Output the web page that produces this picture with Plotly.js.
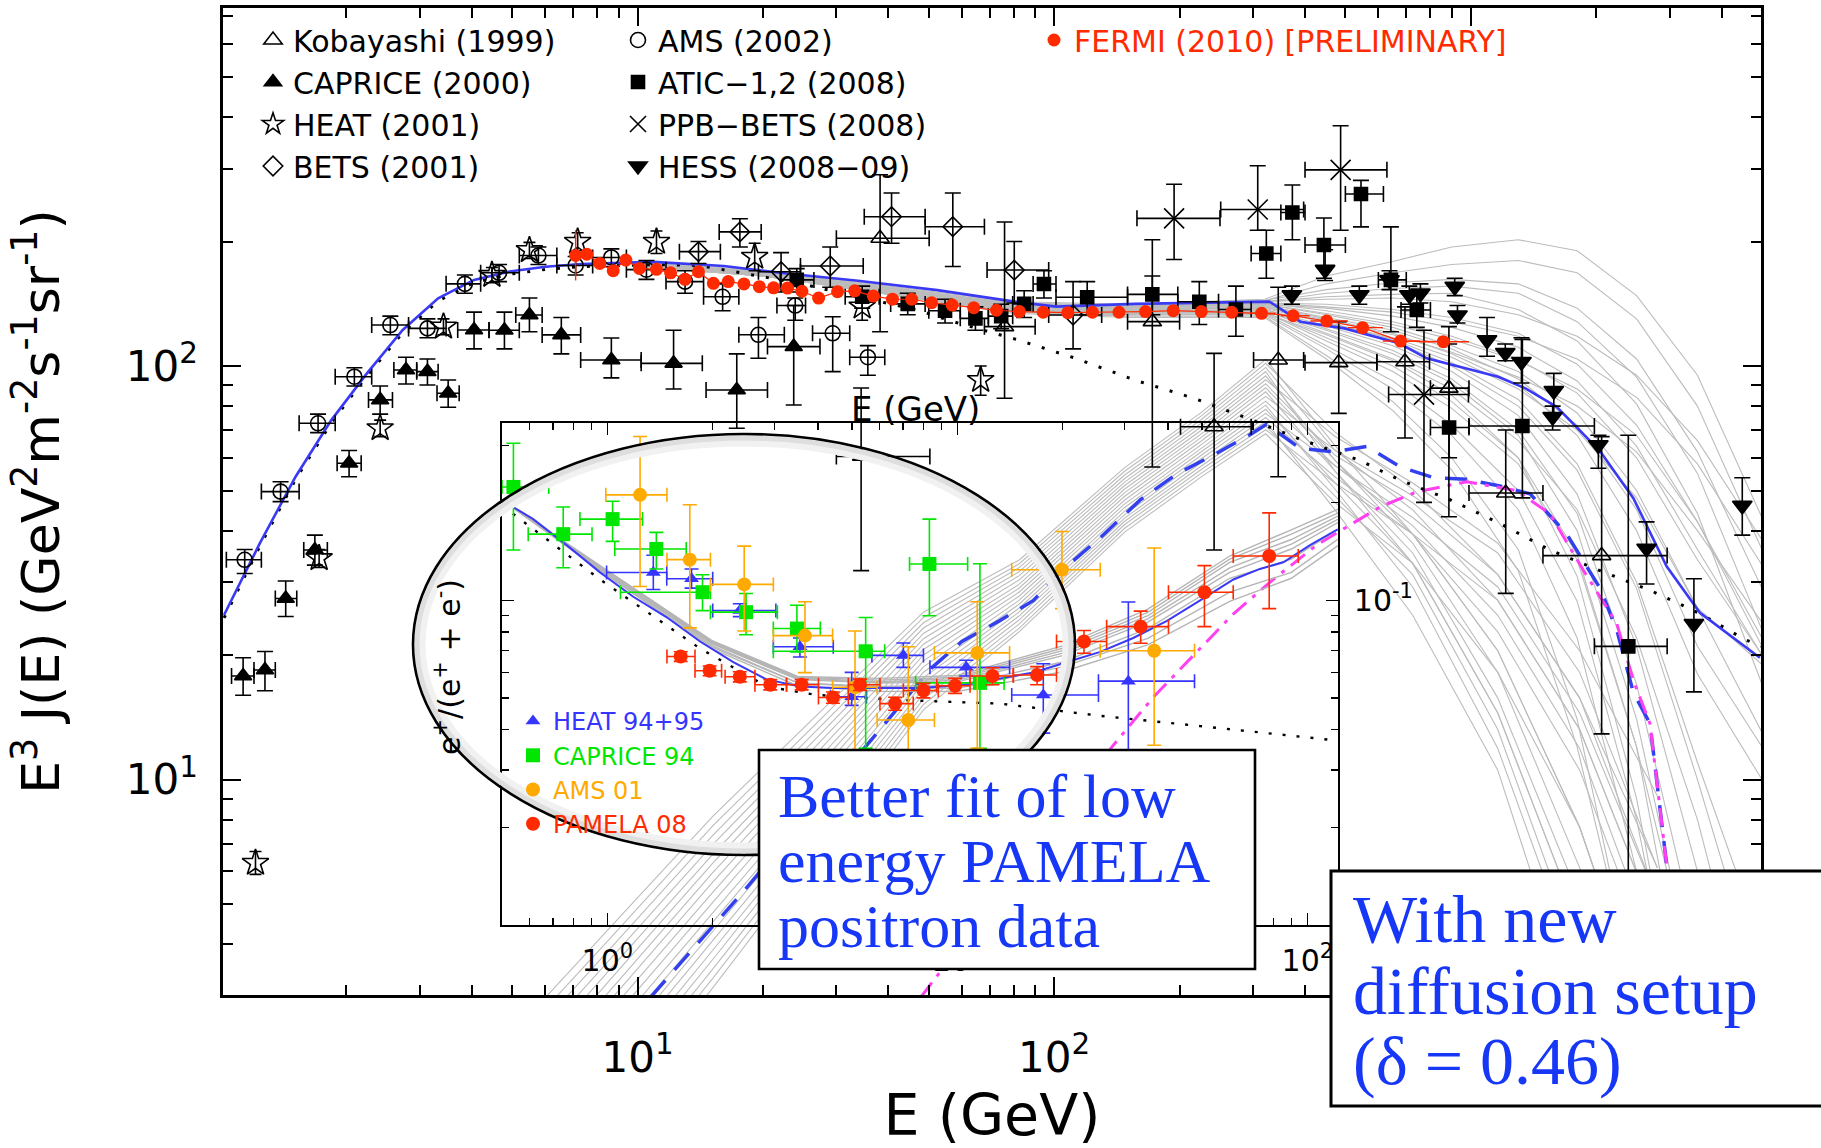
<!DOCTYPE html>
<html>
<head>
<meta charset="utf-8">
<script src="https://cdn.plot.ly/plotly-3.0.1.min.js"></script>
<style>html,body{margin:0;padding:0;background:#fff}</style>
</head>
<body>
<div id="chart" style="width:1821px;height:1148px"></div>
<script>
// ===================== Main panel: E^3 J(E) of e+ + e- =====================
// Kobayashi (1999)
const kobE   = [38.2, 76, 172, 242, 345, 482, 695, 886, 1213, 2061];
const kobJ   = [203.6, 124.5, 128, 71.3, 103.4, 101.9, 102.4, 88.4, 49.3, 34.8];
const kobJhi = [290, 223, 202, 107.3, 155, 128, 139, 124.5, 70, 67.5];
const kobJlo = [121, 83.6, 57, 35.9, 54, 76.8, 67, 43.2, 28.2, 12.9];
const kobElo = [30.0, 68, 150, 201, 301, 400, 595, 800, 990, 1490];
const kobEhi = [50.1, 90, 200, 297, 397, 595, 796, 990, 1490, 2960];
// CAPRICE (2000)
const capE   = [1.13, 1.275, 1.43, 1.68, 2.03, 2.41, 2.78, 3.13, 3.51, 4.05, 4.79, 5.50, 6.56, 8.65, 12.2, 17.3, 23.7, 34.4];
const capJ   = [17.8, 18.4, 27.4, 35.9, 58.2, 82.8, 97.8, 96.9, 85.9, 122.2, 122, 132.8, 118.9, 103.4, 101.5, 87.5, 111.4, 60.4];
const capJhi = [19.7, 20.4, 30.2, 39.0, 62.5, 89.5, 105, 104, 92.5, 135, 135, 146, 131, 116.9, 122, 107, 140, 88.5];
const capJlo = [16.0, 16.4, 24.8, 33.0, 54.0, 76.5, 90.5, 90, 79.5, 110, 110, 121, 107, 93.6, 88, 70.7, 80.5, 32.0];
const capElo = [1.06, 1.2, 1.35, 1.58, 1.9, 2.26, 2.6, 2.95, 3.3, 3.7, 4.4, 5.1, 5.9, 7.3, 10.2, 14.6, 20.5, 30.0];
const capEhi = [1.2, 1.35, 1.52, 1.8, 2.17, 2.58, 2.95, 3.32, 3.73, 4.4, 5.2, 5.9, 7.3, 10.2, 14.3, 20.5, 27.4, 50.3];
// HEAT (2001)
const heatE   = [1.21, 1.72, 2.41, 3.42, 4.47, 5.50, 7.18, 11.1, 19.1, 34.6, 66.6];
const heatJ   = [6.29, 34.3, 70.7, 124.5, 166, 190.6, 199.6, 199.6, 183.6, 139.2, 92.5];
const heatJhi = [6.7, 36.0, 74.0, 130, 173, 199, 210, 212, 198, 150, 100];
const heatJlo = [5.9, 32.6, 67.5, 119, 159, 182, 190, 187, 170, 129, 85];
// BETS (2001)
const betsE   = [14.0, 17.6, 22.1, 29.0, 40.7, 57.1, 80.2, 111];
const betsJ   = [189, 211, 169, 174.5, 229.6, 217.2, 170.6, 132.8];
const betsJhi = [200, 227, 188, 194, 262, 262, 200, 160];
const betsJlo = [177, 194, 151, 155, 198, 174, 142, 110];
const betsElo = [12.6, 15.7, 19.5, 24.6, 35, 49, 69, 97];
const betsEhi = [15.8, 19.8, 24.6, 34.8, 49, 68, 97, 130];
// AMS (2002)
const amsE   = [1.14, 1.39, 1.71, 2.09, 2.55, 3.13, 3.85, 4.65, 5.78, 7.1, 8.65, 10.5, 13.0, 16.0, 19.5, 23.9, 29.4, 35.7];
const amsJ   = [34.0, 49.7, 72.7, 94.2, 125.6, 123.3, 158, 168, 185, 175, 183, 171, 160, 147, 119, 140, 120, 105];
const amsJhi = [36.0, 52.5, 76.5, 99.0, 132, 130, 166, 176, 194, 184, 192, 180, 170, 158, 131, 146, 131.6, 112];
const amsJlo = [31.5, 47.0, 69.0, 89.5, 119, 117, 150, 160, 176, 166, 174, 162, 150, 136, 104.4, 129, 96.9, 95];
const amsElo = [1.03, 1.25, 1.54, 1.88, 2.3, 2.82, 3.47, 4.2, 5.2, 6.4, 7.8, 9.4, 11.7, 14.4, 17.5, 21.6, 26.3, 32.3];
const amsEhi = [1.25, 1.54, 1.88, 2.3, 2.82, 3.47, 4.2, 5.2, 6.4, 7.8, 9.4, 11.7, 14.4, 17.5, 22.5, 25.3, 32.3, 39.2];
// ATIC-1,2 (2008)
const aticE   = [24.1, 34.6, 44.5, 54.7, 64.7, 74.6, 84.7, 94.5, 120, 172, 223, 273, 323, 373, 444, 545, 643, 742, 887, 1330, 2388];
const aticJ   = [161.5, 147.1, 141.3, 136, 130.4, 132, 141.3, 157.9, 146.6, 149, 143, 137, 187, 235, 196.2, 260.5, 161.5, 136.6, 71, 71.6, 21.0];
const aticJhi = [172, 156, 150, 145, 139, 141, 152, 170, 160, 165, 160, 156, 213, 274, 228, 281, 217, 150, 113, 116, 68];
const aticJlo = [151, 138, 133, 127, 122, 123, 131, 146, 133, 133, 126, 118, 163, 202, 163, 217, 121, 124, 60, 48, 2];
const aticElo = [22, 31.5, 40.5, 50, 59.5, 69.5, 79.5, 89, 101, 150, 198, 248, 297, 350, 400, 500, 600, 680, 800, 990, 1980];
const aticEhi = [26.5, 38, 49, 59.5, 69.5, 79.5, 89, 101, 150, 198, 248, 297, 350, 400, 500, 617, 700, 800, 990, 1980, 2960];
// PPB-BETS (2008)
const ppbE   = [194, 308, 487, 772];
const ppbJ   = [227.5, 239, 298, 85.3];
const ppbJhi = [275, 305, 381, 122];
const ppbJlo = [181, 213, 213, 46.8];
const ppbElo = [158, 251, 400, 635];
const ppbEhi = [250, 397, 629, 987];
// HESS (2008-09)
const hessE   = [372, 447, 540, 638, 712, 757, 915, 929, 1094, 1210, 1323, 1572, 1582, 2024, 2642, 3432, 4484];
const hessJ   = [148.5, 171, 148.5, 161.4, 148.5, 150, 155.6, 132.7, 115.5, 107.7, 102.4, 75.4, 87.1, 64.4, 36.2, 23.8, 46];
const hessJhi = [156, 191, 156, 170, 156, 158, 163, 140, 131, 113, 117, 80, 96, 68, 42, 30.6, 53.7];
const hessJlo = [141, 161, 141, 153, 141, 142, 148, 127, 105.6, 103, 91, 70, 77, 56.6, 29.7, 16.3, 39];
// FERMI (2010) [preliminary]
const fermiE = [7.1, 7.55, 8.11, 8.74, 9.37, 10.1, 11.1, 12.0, 13.0, 14.0, 15.2, 16.5, 18.0, 19.6, 21.2,
                22.9, 24.8, 27.2, 30.2, 33.2, 36.8, 40.9, 45.5, 50.8, 56.9, 64.1, 72.7, 82.5, 94.1, 107.8,
                123.6, 143.1, 165.6, 193.1, 225.5, 266.8, 314.6, 374.6, 451, 550, 678, 859];
const fermiJ = [185, 186.4, 177, 170, 180.4, 172.2, 171.3, 168, 162, 169, 158.5, 160, 157.9, 155.5, 154.5,
                154.3, 151.6, 146, 151.3, 152, 147.6, 145.1, 145, 142.2, 140.4, 138.3, 136.4, 135.4, 134.9, 134.6,
                134.9, 134.9, 135.4, 136.1, 135.4, 134.9, 134.1, 132.3, 128.5, 123.8, 114.9, 114.5];
// energy-bin edges of the highest FERMI points (last six)
const fermiTailElo = [295, 350, 412, 507, 615, 755];
const fermiTailEhi = [340, 410, 507, 615, 755, 990];
const fermiFirstJhi = 213, fermiFirstJlo = 161;

// best-fit model (total) and background-only model
const modelE = [1.017, 1.24, 1.51, 1.84, 2.24, 2.73, 3.32, 4.05, 4.93, 6.01, 7.32, 10.9, 16.1, 22.5, 33.8, 52.4,
                80.3, 101, 156, 328.6, 390, 497, 673, 784, 1163, 1353, 1607, 2042, 2456, 2951, 3548, 4943];
const modelJ = [25.0, 37.3, 54.0, 74.0, 96.0, 122.2, 145.8, 161.5, 169.2, 173.8, 176.5, 178.6, 174.5, 167.6, 160.7, 152.6,
                143.1, 139.2, 141.3, 143.1, 128, 123.3, 113.5, 104.4, 94.2, 88.3, 79.7, 62.3, 47.9, 32.8, 25.3, 19.7];
const bkgE = [1.017, 1.24, 1.51, 1.84, 2.24, 2.73, 3.32, 4.05, 4.93, 6.01, 7.32, 10.9, 14.1, 24.4, 33.8, 47, 57.2,
              81, 112.5, 156, 217, 301, 382, 542, 676, 891, 1170, 1549, 2042, 2692, 3548, 4550, 5000];
const bkgJ = [24.6, 36.7, 53.2, 72.9, 94.6, 120.4, 143.6, 159.1, 166.7, 171.2, 173.9, 175.9, 175, 158.5, 147, 136.6, 128,
              116, 104.4, 92.5, 83.5, 73.8, 67, 59.1, 53, 47.5, 41.7, 35.9, 32, 28.7, 25.2, 21.8, 21];

// scan of propagation/source parameters (grey band)
const mainBandE = [10, 20, 40, 80, 150, 320, 450, 650, 900, 1300, 1800, 2500, 3500, 5000];
const mainBandJ = [
  [179, 170, 156, 143, 141, 145, 165, 179, 194, 202, 190, 148, 95, 43],
  [178, 169, 155, 142, 140, 144, 158, 168, 176, 180, 168, 130, 80, 36],
  [178, 169, 155, 142, 140, 144, 153, 159, 162, 158, 138, 104, 62, 29],
  [177, 168, 154, 141, 139, 143, 150, 154, 156, 150, 128, 94, 55, 23],
  [177, 168, 154, 141, 139, 143, 147, 149, 150, 137, 115, 81, 44, 17],
  [177, 168, 154, 141, 139, 143, 145, 146, 143, 133, 118, 95, 66, 38],
  [177, 168, 154, 141, 139, 142, 141, 137, 131, 120, 101, 72, 42, 21],
  [177, 168, 154, 141, 139, 142, 139, 135, 128, 118, 104, 84, 58, 33],
  [178, 169, 155, 141, 139, 142, 136, 128, 118, 104, 86, 60, 34, 20],
  [176, 167, 153, 140, 138, 141, 138, 132, 124, 111, 92, 64, 36, 20],
  [177, 168, 154, 140, 138, 141, 134, 126, 116, 103, 88, 68, 42, 22],
  [177, 168, 154, 140, 138, 141, 133, 124, 112, 97, 77, 50, 26, 19],
  [176, 167, 153, 139, 137, 140, 131, 122, 110, 93, 72, 45, 21, 12],
  [176, 167, 153, 139, 137, 140, 130, 120, 107, 90, 68, 40, 18, 10],
  [176, 167, 153, 139, 137, 139, 129, 119, 108, 94, 80, 62, 40, 24],
  [176, 166, 152, 138, 136, 139, 128, 116, 102, 83, 58, 30, 11, 4],
  [176, 167, 152, 138, 136, 138, 127, 117, 105, 88, 70, 48, 26, 13],
  [175, 166, 152, 138, 136, 139, 127, 115, 100, 80, 56, 29, 10, 3],
  [175, 166, 151, 137, 135, 137, 125, 112, 97, 76, 49, 21, 6, 1.5],
  [175, 166, 151, 137, 135, 137, 123, 109, 93, 70, 44, 17, 4, 1],
  [175, 165, 150, 136, 134, 136, 122, 107, 91, 68, 40, 14, 3, 1],
  [175, 166, 151, 137, 135, 136, 120, 104, 88, 66, 45, 22, 8, 2],
  [174, 165, 150, 135, 133, 134, 119, 103, 85, 60, 31, 9, 1.5, 1],
  [174, 165, 150, 136, 134, 135, 117, 100, 82, 60, 35, 12, 2, 1],
  [175, 166, 151, 137, 134, 135, 115, 97, 79, 58, 34, 12, 3, 1],
  [174, 165, 150, 135, 133, 134, 112, 92, 72, 50, 27, 8, 1.5, 1],
  [175, 165, 150, 136, 133, 133, 110, 88, 68, 45, 22, 6, 1.5, 1],
  [174, 165, 149, 135, 132, 132, 106, 82, 60, 36, 14, 3, 1, 1],
  [174, 165, 149, 134, 131, 131, 104, 78, 56, 32, 12, 3, 1, 1]
];

// ===================== Inset: positron fraction e+/(e+ + e-) =====================
const heat95E   = [1.353, 1.74, 2.39, 3.55, 4.99, 7.01, 10.6, 17.6, 30.8];
const heat95F   = [0.1219, 0.1166, 0.0931, 0.072, 0.0505, 0.0677, 0.0622, 0.0511, 0.0564];
const heat95Fhi = [0.1377, 0.125, 0.0977, 0.0766, 0.060, 0.0739, 0.0654, 0.0638, 0.0989];
const heat95Flo = [0.108, 0.1091, 0.0891, 0.0669, 0.0475, 0.0622, 0.0585, 0.039, 0.0344];
const heat95Elo = [0.995, 1.478, 2.0, 2.98, 4.34, 5.7, 8.35, 14.3, 25.3];
const heat95Ehi = [1.478, 2.0, 3.03, 4.42, 5.5, 8.0, 14.1, 25.3, 47.6];

const cap94E   = [0.539, 0.748, 1.035, 1.38, 1.87, 2.49, 3.48, 5.47, 8.32, 11.6];
const cap94F   = [0.2236, 0.160, 0.178, 0.144, 0.106, 0.092, 0.0819, 0.0697, 0.1295, 0.0557];
const cap94Fhi = [0.305, 0.194, 0.202, 0.162, 0.12, 0.105, 0.0966, 0.0886, 0.178, 0.1297];
const cap94Flo = [0.143, 0.126, 0.152, 0.125, 0.093, 0.0784, 0.0694, 0.035, 0.0897, 0.035];
const cap94Elo = [0.5, 0.594, 0.835, 1.05, 1.09, 1.97, 2.98, 2.98, 7.3, 7.6];
const cap94Ehi = [0.68, 0.904, 1.26, 1.68, 1.97, 3.06, 4.06, 6.2, 10.7, 13.6];

const ams01E   = [1.24, 1.72, 2.46, 3.67, 5.1, 7.24, 11.4, 19.9, 36.5];
const ams01F   = [0.2114, 0.1335, 0.112, 0.0779, 0.054, 0.0428, 0.0689, 0.1243, 0.07];
const ams01Fhi = [0.32, 0.197, 0.147, 0.099, 0.0805, 0.072, 0.099, 0.163, 0.145];
const ams01Flo = [0.1104, 0.0823, 0.0805, 0.0599, 0.01, 0.01, 0.035, 0.0943, 0.0358];
const ams01Elo = [0.99, 1.48, 1.97, 2.98, 4.4, 5.9, 8.6, 14.3, 25.6];
const ams01Ehi = [1.48, 1.97, 2.98, 4.4, 5.9, 8.6, 14.1, 25.6, 47.6];

const pamE   = [1.62, 1.96, 2.39, 2.92, 3.59, 4.41, 5.27, 6.64, 8.0, 9.85, 12.6, 16.9, 23.0, 33.4, 50.8, 77.8];
const pamF   = [0.0672, 0.0607, 0.0582, 0.055, 0.055, 0.0502, 0.055, 0.0481, 0.0528, 0.0546, 0.0585, 0.0589, 0.0747, 0.083, 0.106, 0.137];
const pamFhi = [0.0695, 0.0628, 0.0603, 0.057, 0.057, 0.0522, 0.0572, 0.0503, 0.0555, 0.0575, 0.062, 0.0625, 0.0808, 0.0927, 0.128, 0.186];
const pamFlo = [0.0649, 0.0586, 0.0561, 0.053, 0.053, 0.0482, 0.0528, 0.0459, 0.0501, 0.0517, 0.055, 0.055, 0.0687, 0.0738, 0.083, 0.0943];
const pamElo = [1.48, 1.78, 2.17, 2.64, 3.25, 4.01, 4.88, 6.01, 7.01, 8.73, 10.87, 14.45, 19.2, 26.7, 40.1, 61.4];
const pamEhi = [1.78, 2.12, 2.64, 3.25, 4.01, 4.88, 6.01, 7.48, 8.82, 10.87, 14.45, 19.2, 26.7, 40.1, 61.4, 94.2];

// fitted positron fraction and secondary-only expectation
const fitE = [0.499, 0.614, 0.765, 0.953, 1.186, 1.478, 1.84, 2.29, 2.85, 3.55, 4.42, 5.51, 7.82, 10.6, 16.5, 20.5,
              25.6, 31.8, 39.7, 49.4, 61.5, 73.2, 85.4, 101.8, 122.1];
const fitF = [0.2037, 0.178, 0.148, 0.122, 0.1026, 0.0887, 0.0747, 0.0645, 0.0571, 0.0543, 0.0537, 0.0537, 0.0537, 0.055, 0.060, 0.0645,
              0.0694, 0.0766, 0.0865, 0.100, 0.116, 0.125, 0.131, 0.148, 0.1655];
const secE = [0.499, 0.953, 1.84, 2.85, 3.92, 6.86, 13.2, 25.6, 49.4, 116];
const secF = [0.1964, 0.116, 0.0711, 0.0543, 0.0512, 0.0493, 0.0481, 0.0441, 0.041, 0.0372];
// fit variations hugging the best fit
const fitBandE = [0.5, 1, 2, 3.5, 6, 10, 20, 35, 60, 90, 125];
const fitBandF = [
  [0.204, 0.1236, 0.0750, 0.0583, 0.0575, 0.0587, 0.0724, 0.0940, 0.137, 0.165, 0.193],
  [0.204, 0.1229, 0.0745, 0.0580, 0.0568, 0.0580, 0.0712, 0.0918, 0.134, 0.160, 0.188],
  [0.204, 0.1222, 0.0741, 0.0577, 0.0562, 0.0574, 0.0700, 0.0897, 0.131, 0.154, 0.184],
  [0.204, 0.1215, 0.0737, 0.0573, 0.0559, 0.0567, 0.0688, 0.0877, 0.126, 0.149, 0.180],
  [0.204, 0.1208, 0.0733, 0.0570, 0.0556, 0.0561, 0.0676, 0.0857, 0.122, 0.144, 0.176],
  [0.204, 0.1194, 0.0716, 0.0557, 0.0543, 0.0548, 0.0646, 0.0818, 0.117, 0.134, 0.168],
  [0.204, 0.1208, 0.0724, 0.0557, 0.0537, 0.0536, 0.0624, 0.0764, 0.106, 0.122, 0.157],
  [0.204, 0.1194, 0.0708, 0.0545, 0.0525, 0.0524, 0.0603, 0.0729, 0.0993, 0.117, 0.150]
];
// pulsar-like extra component (dashed) and its alternative (dash-dot)
const pulsarE = [1.33, 2.45, 6.01, 8.36, 10.3, 13.2, 16.5, 19.6, 25.6, 33.3, 42.3, 53.8, 68.5, 76.5, 95.3, 118.6,
                 147.8, 184, 229, 285, 355, 433, 551, 686, 766, 854, 953, 1063, 1101];
const pulsarF = [0.006, 0.0127, 0.040, 0.0614, 0.0747, 0.0865, 0.1, 0.122, 0.156, 0.204, 0.245, 0.280, 0.324, 0.349, 0.294, 0.287,
                 0.298, 0.258, 0.239, 0.236, 0.225, 0.213, 0.16, 0.109, 0.081, 0.052, 0.0417, 0.0153, 0.006];
const altE = [7.87, 27.9, 36.4, 47.2, 61.4, 79.9, 106.3, 118.6, 161.3, 205, 285, 396, 493, 614, 766, 854, 953, 1063, 1101];
const altF = [0.006, 0.0358, 0.0505, 0.0677, 0.0908, 0.116, 0.148, 0.159, 0.194, 0.216, 0.232, 0.218, 0.185, 0.124, 0.0848, 0.0567, 0.0417, 0.0153, 0.006];
// scan of the extra-component parameters (grey bundle)
const pulsarBandE = [0.6, 1, 2, 4, 8, 15, 30, 50, 76, 120, 200, 350, 600, 1000];
const pulsarBandF = [
  [0.0053, 0.0096, 0.0216, 0.0447, 0.092, 0.133, 0.256, 0.381, 0.553, 0.30, 0.16, 0.07, 0.02, 0.004],
  [0.0049, 0.0089, 0.0202, 0.0424, 0.0886, 0.1295, 0.2495, 0.3715, 0.5375, 0.33, 0.22, 0.12, 0.05, 0.012],
  [0.0045, 0.00828, 0.0189, 0.0402, 0.0853, 0.126, 0.243, 0.362, 0.522, 0.29, 0.19, 0.10, 0.04, 0.01],
  [0.00415, 0.0077, 0.0177, 0.0381, 0.0822, 0.1225, 0.237, 0.353, 0.507, 0.25, 0.13, 0.045, 0.01, 0.002],
  [0.00382, 0.00715, 0.0165, 0.0361, 0.0791, 0.119, 0.231, 0.344, 0.492, 0.27, 0.15, 0.06, 0.015, 0.003],
  [0.00352, 0.00663, 0.0155, 0.0342, 0.0762, 0.1155, 0.2255, 0.3355, 0.4785, 0.32, 0.23, 0.15, 0.07, 0.025],
  [0.00324, 0.00615, 0.0145, 0.0324, 0.0733, 0.112, 0.220, 0.327, 0.465, 0.28, 0.20, 0.12, 0.05, 0.015],
  [0.003, 0.00573, 0.01355, 0.0308, 0.0706, 0.109, 0.2145, 0.319, 0.452, 0.27, 0.16, 0.07, 0.02, 0.004],
  [0.00275, 0.00531, 0.0126, 0.0292, 0.0679, 0.106, 0.209, 0.311, 0.439, 0.25, 0.14, 0.05, 0.012, 0.002],
  [0.00253, 0.00491, 0.01175, 0.0276, 0.0651, 0.103, 0.2035, 0.303, 0.425, 0.29, 0.21, 0.14, 0.06, 0.015],
  [0.00231, 0.00452, 0.0109, 0.0260, 0.0624, 0.100, 0.198, 0.295, 0.411, 0.26, 0.17, 0.09, 0.035, 0.008],
  [0.00213, 0.00421, 0.0102, 0.0247, 0.0601, 0.0973, 0.193, 0.288, 0.3995, 0.22, 0.11, 0.035, 0.007, 0.001],
  [0.00196, 0.0039, 0.00955, 0.0234, 0.0578, 0.0946, 0.188, 0.281, 0.388, 0.23, 0.13, 0.045, 0.01, 0.002],
  [0.00181, 0.00363, 0.00895, 0.0222, 0.0557, 0.092, 0.1835, 0.274, 0.377, 0.26, 0.18, 0.11, 0.045, 0.012],
  [0.00166, 0.00336, 0.00836, 0.0210, 0.0536, 0.0895, 0.179, 0.267, 0.366, 0.24, 0.16, 0.08, 0.03, 0.007],
  [0.00153, 0.00313, 0.00783, 0.02, 0.0516, 0.087, 0.175, 0.2605, 0.3555, 0.19, 0.09, 0.03, 0.005, 0.001],
  [0.00141, 0.0029, 0.00731, 0.0189, 0.0497, 0.0845, 0.171, 0.254, 0.345, 0.21, 0.12, 0.04, 0.008, 0.0015],
  [0.0013, 0.0027, 0.00685, 0.018, 0.0478, 0.082, 0.1665, 0.2475, 0.3355, 0.23, 0.16, 0.10, 0.04, 0.01],
  [0.0012, 0.0025, 0.0064, 0.017, 0.046, 0.080, 0.162, 0.241, 0.326, 0.20, 0.13, 0.06, 0.02, 0.004]
];

// axis ticks (the 10^3 and 10^-2 labels sit under the text boxes)
const mainXTicks = [10, 100, 1000];
const mainXText  = ['10<sup>1</sup>', '10<sup>2</sup>', ''];
const mainXMinor = [2,3,4,5,6,7,8,9,20,30,40,50,60,70,80,90,200,300,400,500,600,700,800,900,2000,3000,4000];
const mainYTicks = [10, 100];
const mainYText  = ['10<sup>1</sup>', '10<sup>2</sup>'];
const mainYMinor = [4,5,6,7,8,9,20,30,40,50,60,70,80,90,200,300,400,500,600,700];
const insetXTicks = [1, 10, 100];
const insetXText  = ['10<sup>0</sup>', '10<sup>1</sup>', '10<sup>2</sup>'];
const insetXMinor = [0.6,0.7,0.8,0.9,2,3,4,5,6,7,8,9,20,30,40,50,60,70,80,90];
const insetYTicks = [0.01, 0.1];
const insetYText  = ['', '10<sup>-1</sup>'];
const insetYMinor = [0.02,0.03,0.04,0.05,0.06,0.07,0.08,0.09,0.2,0.3];

// ===================== layout geometry =====================
const W = 1821, H = 1148;
const M = {l: 223, r: 60, t: 8, b: 153};
const plotW = W - M.l - M.r, plotH = H - M.t - M.b;
const px = v => (v - M.l) / plotW;            // page pixel -> paper x
const py = v => (M.t + plotH - v) / plotH;    // page pixel -> paper y

const mainXRange = [0.0048, 3.6966];
const mainYRange = [0.4792, 2.8656];
const insetBox = {left: 502, right: 1338, top: 423, bottom: 925};
const insetXRange = [Math.log10(0.5), Math.log10(0.5) + (insetBox.right - insetBox.left) / 350];
const insetYRange = [-2, -2 + (insetBox.bottom - insetBox.top) / 324.6];
const insetXDom = [px(insetBox.left), px(insetBox.right)];
const insetYDom = [py(insetBox.bottom), py(insetBox.top)];
// same scale as the inset, stretched over the whole frame (curves that run past the inset border)
const spanX = (insetXRange[1] - insetXRange[0]) / (insetXDom[1] - insetXDom[0]);
const spanY = (insetYRange[1] - insetYRange[0]) / (insetYDom[1] - insetYDom[0]);
const extXRange = [insetXRange[0] - insetXDom[0] * spanX, insetXRange[0] + (1 - insetXDom[0]) * spanX];
const extYRange = [insetYRange[0] - insetYDom[0] * spanY, insetYRange[0] + (1 - insetYDom[0]) * spanY];

// ===================== helpers =====================
const errBar = (v, hi, lo, color, w) => ({type: 'data', symmetric: false,
  array: hi.map((h, i) => h - v[i]), arrayminus: lo.map((l, i) => v[i] - l),
  color: color || 'black', thickness: 1.6, width: w === undefined ? 8 : w});

const traces = [];

// grey band of the main panel (base layer)
mainBandJ.forEach(j => traces.push({x: mainBandE, y: j, mode: 'lines', xaxis: 'x', yaxis: 'y',
  line: {color: '#bcbcbc', width: 1.1}, showlegend: false, hoverinfo: 'skip'}));

// curves that belong to the inset but continue beyond its border
pulsarBandF.forEach(f => traces.push({x: pulsarBandE, y: f, mode: 'lines', xaxis: 'x3', yaxis: 'y3',
  line: {color: '#bcbcbc', width: 1.1}, showlegend: false, hoverinfo: 'skip'}));
traces.push({x: pulsarE, y: pulsarF, mode: 'lines', xaxis: 'x3', yaxis: 'y3',
  line: {color: '#3340ee', width: 3.5, dash: '22px,14px'}, showlegend: false, hoverinfo: 'skip'});
traces.push({x: altE, y: altF, mode: 'lines', xaxis: 'x3', yaxis: 'y3',
  line: {color: '#ff40f0', width: 3, dash: '18px,8px,4px,8px'}, showlegend: false, hoverinfo: 'skip'});

// main-panel model curves
traces.push({x: bkgE, y: bkgJ, mode: 'lines', xaxis: 'x4', yaxis: 'y4',
  line: {color: 'black', width: 3, dash: '3px,12px'}, showlegend: false, hoverinfo: 'skip'});
traces.push({x: modelE, y: modelJ, mode: 'lines', xaxis: 'x4', yaxis: 'y4',
  line: {color: '#3a3af5', width: 2.6}, showlegend: false, hoverinfo: 'skip'});

// main-panel data sets
const mk = (sym, size) => ({symbol: sym, size: size, color: 'black', line: {color: 'black', width: 1.6}});
traces.push({name: 'Kobayashi (1999)', x: kobE, y: kobJ, mode: 'markers', xaxis: 'x4', yaxis: 'y4', legend: 'legend',
  marker: mk('triangle-up-open', 16), error_y: errBar(kobJ, kobJhi, kobJlo), error_x: errBar(kobE, kobEhi, kobElo)});
traces.push({name: 'CAPRICE (2000)', x: capE, y: capJ, mode: 'markers', xaxis: 'x4', yaxis: 'y4', legend: 'legend',
  marker: mk('triangle-up', 15), error_y: errBar(capJ, capJhi, capJlo), error_x: errBar(capE, capEhi, capElo)});
traces.push({name: 'HEAT (2001)', x: heatE, y: heatJ, mode: 'markers', xaxis: 'x4', yaxis: 'y4', legend: 'legend',
  marker: mk('star-open', 20), error_y: errBar(heatJ, heatJhi, heatJlo, 'black', 6)});
traces.push({name: 'BETS (2001)', x: betsE, y: betsJ, mode: 'markers', xaxis: 'x4', yaxis: 'y4', legend: 'legend',
  marker: mk('diamond-open', 15), error_y: errBar(betsJ, betsJhi, betsJlo), error_x: errBar(betsE, betsEhi, betsElo)});
traces.push({name: 'AMS (2002)', x: amsE, y: amsJ, mode: 'markers', xaxis: 'x4', yaxis: 'y4', legend: 'legend2',
  marker: mk('circle-open', 15), error_y: errBar(amsJ, amsJhi, amsJlo), error_x: errBar(amsE, amsEhi, amsElo)});
traces.push({name: 'ATIC\u22121,2 (2008)', x: aticE, y: aticJ, mode: 'markers', xaxis: 'x4', yaxis: 'y4', legend: 'legend2',
  marker: mk('square', 13), error_y: errBar(aticJ, aticJhi, aticJlo), error_x: errBar(aticE, aticEhi, aticElo)});
traces.push({name: 'PPB\u2212BETS (2008)', x: ppbE, y: ppbJ, mode: 'markers', xaxis: 'x4', yaxis: 'y4', legend: 'legend2',
  marker: mk('x-thin-open', 20), error_y: errBar(ppbJ, ppbJhi, ppbJlo), error_x: errBar(ppbE, ppbEhi, ppbElo)});
traces.push({name: 'HESS (2008\u221209)', x: hessE, y: hessJ, mode: 'markers', xaxis: 'x4', yaxis: 'y4', legend: 'legend2',
  marker: mk('triangle-down', 17), error_y: errBar(hessJ, hessJhi, hessJlo)});

// FERMI: thin joining line, then the points
const nF = fermiE.length, nTail = fermiTailElo.length;
const fermiXp = fermiE.map((e, i) => i >= nF - nTail ? fermiTailEhi[i - (nF - nTail)] - e : 0);
const fermiXm = fermiE.map((e, i) => i >= nF - nTail ? e - fermiTailElo[i - (nF - nTail)] : 0);
const fermiYp = fermiJ.map((j, i) => i === 0 ? fermiFirstJhi - j : 0);
const fermiYm = fermiJ.map((j, i) => i === 0 ? j - fermiFirstJlo : 0);
traces.push({x: fermiE, y: fermiJ, mode: 'lines', xaxis: 'x4', yaxis: 'y4',
  line: {color: '#ff2a00', width: 1.2}, showlegend: false, hoverinfo: 'skip'});
traces.push({name: 'FERMI (2010) [PRELIMINARY]', x: fermiE, y: fermiJ, mode: 'markers', xaxis: 'x4', yaxis: 'y4', legend: 'legend3',
  marker: {symbol: 'circle', size: 13, color: '#ff2a00'},
  error_x: {type: 'data', symmetric: false, array: fermiXp, arrayminus: fermiXm, color: '#ff2a00', thickness: 1.4, width: 0},
  error_y: {type: 'data', symmetric: false, array: fermiYp, arrayminus: fermiYm, color: '#ff2a00', thickness: 1.4, width: 0}});

// ---- inset (clipped to its frame) ----
fitBandF.forEach(f => traces.push({x: fitBandE, y: f, mode: 'lines', xaxis: 'x2', yaxis: 'y2',
  line: {color: '#b5b5b5', width: 1.4}, showlegend: false, hoverinfo: 'skip'}));
traces.push({x: secE, y: secF, mode: 'lines', xaxis: 'x2', yaxis: 'y2',
  line: {color: 'black', width: 2.4, dash: '3px,11px'}, showlegend: false, hoverinfo: 'skip'});
traces.push({x: fitE, y: fitF, mode: 'lines', xaxis: 'x2', yaxis: 'y2',
  line: {color: '#3a3af5', width: 2}, showlegend: false, hoverinfo: 'skip'});

const cHeat = '#3535ff', cCap = '#00e600', cAms = '#ffaa00', cPam = '#ff2a00';
traces.push({name: '<span style="color:' + cHeat + '">HEAT 94+95</span>', x: heat95E, y: heat95F, mode: 'markers',
  xaxis: 'x2', yaxis: 'y2', legend: 'legend4', marker: {symbol: 'triangle-up', size: 13, color: cHeat},
  error_y: errBar(heat95F, heat95Fhi, heat95Flo, cHeat, 7), error_x: errBar(heat95E, heat95Ehi, heat95Elo, cHeat, 7)});
traces.push({name: '<span style="color:' + cCap + '">CAPRICE 94</span>', x: cap94E, y: cap94F, mode: 'markers',
  xaxis: 'x2', yaxis: 'y2', legend: 'legend4', marker: {symbol: 'square', size: 14, color: cCap},
  error_y: errBar(cap94F, cap94Fhi, cap94Flo, cCap, 7), error_x: errBar(cap94E, cap94Ehi, cap94Elo, cCap, 7)});
traces.push({name: '<span style="color:' + cAms + '">AMS 01</span>', x: ams01E, y: ams01F, mode: 'markers',
  xaxis: 'x2', yaxis: 'y2', legend: 'legend4', marker: {symbol: 'circle', size: 14, color: cAms},
  error_y: errBar(ams01F, ams01Fhi, ams01Flo, cAms, 7), error_x: errBar(ams01E, ams01Ehi, ams01Elo, cAms, 7)});
traces.push({name: '<span style="color:' + cPam + '">PAMELA 08</span>', x: pamE, y: pamF, mode: 'markers',
  xaxis: 'x2', yaxis: 'y2', legend: 'legend4', marker: {symbol: 'circle', size: 14, color: cPam},
  error_y: errBar(pamF, pamFhi, pamFlo, cPam, 7), error_x: errBar(pamE, pamEhi, pamElo, cPam, 7)});

// ===================== layout =====================
const tickFontMain = {family: 'DejaVu Sans', size: 42, color: 'black'};
const tickFontInset = {family: 'DejaVu Sans', size: 30, color: 'black'};

const mainAxis = (range, vals, text, minor, extra) => Object.assign({
  type: 'log', range: range, showgrid: false, zeroline: false,
  showline: true, linecolor: 'black', linewidth: 2.6, mirror: 'allticks',
  ticks: 'inside', ticklen: 18, tickwidth: 2, tickcolor: 'black',
  tickmode: 'array', tickvals: vals, ticktext: text, tickfont: tickFontMain,
  minor: {tickmode: 'array', tickvals: minor, ticks: 'inside', ticklen: 10, tickwidth: 2, tickcolor: 'black', showgrid: false}
}, extra);
const insetAxis = (range, vals, text, minor, extra) => Object.assign({
  type: 'log', range: range, showgrid: false, zeroline: false,
  showline: true, linecolor: 'black', linewidth: 1.8, mirror: 'allticks',
  ticks: 'inside', ticklen: 12, tickwidth: 1.5, tickcolor: 'black',
  tickmode: 'array', tickvals: vals, ticktext: text, tickfont: tickFontInset,
  minor: {tickmode: 'array', tickvals: minor, ticks: 'inside', ticklen: 7, tickwidth: 1.5, tickcolor: 'black', showgrid: false}
}, extra);

const legendBase = {bgcolor: 'rgba(0,0,0,0)', borderwidth: 0, xanchor: 'left', yanchor: 'top',
  font: {family: 'DejaVu Sans', size: 30, color: 'black'}, itemclick: false};

const blueText = '#1737f7';
const boxText = (txt, xPix, yPix, size) => ({text: txt, xref: 'paper', yref: 'paper', x: px(xPix), y: py(yPix),
  xanchor: 'left', yanchor: 'middle', showarrow: false, align: 'left',
  font: {family: 'Liberation Serif', size: size, color: blueText}});

const ell = {x0: 413, x1: 1075, y0: 434, y1: 855};
const ellShape = (inset, color, width) => ({type: 'circle', xref: 'paper', yref: 'paper', layer: 'above',
  x0: px(ell.x0 + inset), x1: px(ell.x1 - inset), y0: py(ell.y1 - inset), y1: py(ell.y0 + inset),
  line: {color: color, width: width}, fillcolor: 'rgba(0,0,0,0)'});

const layout = {
  width: W, height: H, margin: M,
  paper_bgcolor: 'white', plot_bgcolor: 'rgba(0,0,0,0)',
  hovermode: false, showlegend: true,
  xaxis: mainAxis(mainXRange, mainXTicks, mainXText, mainXMinor, {
    ticklabelstandoff: 24,
    title: {text: 'E (GeV)', font: {family: 'DejaVu Sans', size: 57, color: 'black'}, standoff: 14}}),
  yaxis: mainAxis(mainYRange, mainYTicks, mainYText, mainYMinor, {
    ticklabelstandoff: 14,
    title: {text: 'E<sup>3</sup> J(E) (GeV<sup>2</sup>m<sup>-2</sup>s<sup>-1</sup>sr<sup>-1</sup>)',
            font: {family: 'DejaVu Sans', size: 52, color: 'black'}, standoff: 50}}),
  xaxis2: insetAxis(insetXRange, insetXTicks, insetXText, insetXMinor, {domain: insetXDom, anchor: 'y2', ticklabelstandoff: 8}),
  yaxis2: insetAxis(insetYRange, insetYTicks, insetYText, insetYMinor, {domain: insetYDom, anchor: 'x2', side: 'right', ticklabelstandoff: 8}),
  xaxis3: {type: 'log', range: extXRange, overlaying: 'x', visible: false},
  yaxis3: {type: 'log', range: extYRange, overlaying: 'y', visible: false},
  xaxis4: {type: 'log', range: mainXRange, overlaying: 'x', visible: false},
  yaxis4: {type: 'log', range: mainYRange, overlaying: 'y', visible: false},
  legend:  Object.assign({}, legendBase, {x: px(253), y: py(14)}),
  legend2: Object.assign({}, legendBase, {x: px(618), y: py(14)}),
  legend3: Object.assign({}, legendBase, {x: px(1034), y: py(14), font: {family: 'DejaVu Sans', size: 30, color: '#ff2a00'}}),
  legend4: Object.assign({}, legendBase, {x: px(513), y: py(699), font: {family: 'DejaVu Sans', size: 24, color: 'black'}}),
  shapes: [
    ellShape(9, '#f1f1f1', 7),
    ellShape(4, '#dedede', 5),
    ellShape(0, 'black', 2.6),
    {type: 'rect', xref: 'paper', yref: 'paper', layer: 'above', x0: px(759), x1: px(1255), y0: py(969), y1: py(750),
     line: {color: 'black', width: 2.6}, fillcolor: 'white'},
    {type: 'rect', xref: 'paper', yref: 'paper', layer: 'above', x0: px(1331), x1: px(1840), y0: py(1106), y1: py(871),
     line: {color: 'black', width: 3}, fillcolor: 'white'}
  ],
  annotations: [
    {text: 'E (GeV)', xref: 'paper', yref: 'paper', x: px(915), y: py(409), xanchor: 'center', yanchor: 'middle',
     showarrow: false, font: {family: 'DejaVu Sans', size: 34, color: 'black'}},
    {text: 'e<sup>+</sup>/(e<sup>+</sup> + e<sup>-</sup>)', xref: 'paper', yref: 'paper', x: px(447), y: py(667),
     xanchor: 'center', yanchor: 'middle', textangle: -90, showarrow: false,
     font: {family: 'DejaVu Sans', size: 30, color: 'black'}},
    boxText('Better fit of low', 776, 796, 62),
    boxText('energy PAMELA', 776, 861, 62),
    boxText('positron data', 776, 926, 62),
    boxText('With new', 1351, 919, 68),
    boxText('diffusion setup', 1351, 991, 68),
    boxText('(\u03b4 = 0.46)', 1351, 1061, 68)
  ]
};

Plotly.newPlot('chart', traces, layout, {displayModeBar: false, staticPlot: true});
</script>
</body>
</html>
